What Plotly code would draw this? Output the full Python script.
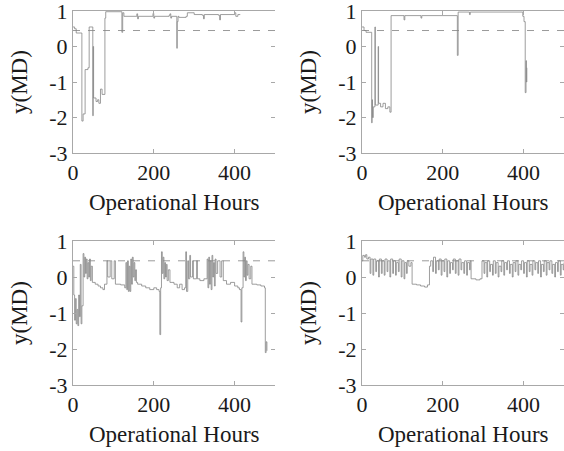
import plotly.graph_objects as go

# ---------------- DATA ----------------
x_range = [0, 500]
y_range = [-3, 1]
x_tickvals = [0, 200, 400]
x_ticktext = ["0", "200", "400"]
y_tickvals = [-3, -2, -1, 0, 1]
y_ticktext = ["-3", "-2", "-1", "0", "1"]
threshold = 0.45
x_title = "Operational Hours"
y_title = "y(MD)"

hours_a = [0, 4, 8, 22, 25, 30, 37, 40, 47, 49,
           50, 51, 57, 61, 64, 68, 72, 79, 81, 119,
           121, 123, 126, 156, 158, 160, 162, 196, 198, 200,
           202, 238, 240, 242, 244, 255, 257, 258, 260, 262,
           280, 283, 300, 320, 323, 325, 360, 363, 365, 400,
           403, 408, 414]
md_a = [0.55, 0.5, 0.38, -2.1, -1.9, -0.65, -0.6, 0.55, 0.55, -1.95,
        0.0, -1.45, -1.55, -1.5, -1.6, -1.2, -1.35, 0.8, 0.98, 0.98,
        0.4, 0.95, 0.85, 0.85, 0.92, 0.78, 0.85, 0.85, 0.93, 0.8,
        0.85, 0.88, 0.92, 0.8, 0.85, 0.85, -0.05, 0.7, 0.85, 0.82,
        0.85, 0.95, 0.9, 0.88, 0.78, 0.9, 0.88, 0.75, 0.9, 0.95,
        0.85, 0.9, 0.9]

hours_b = [0, 5, 10, 24, 25, 26, 28, 32, 33, 40,
           41, 46, 52, 58, 64, 69, 72, 104, 106, 146,
           148, 236, 238, 240, 266, 268, 398, 401, 404, 406,
           407, 408]
md_b = [0.55, 0.45, 0.4, -2.15, -1.5, -2.0, -1.7, 0.55, -1.65, 0.0,
        -1.6, -1.7, -1.6, -1.75, -1.7, -1.85, 0.87, 0.75, 0.87, 0.8,
        0.87, -0.25, 0.97, 0.97, 0.9, 0.97, 0.85, 0.7, -1.3, -0.4,
        -1.0, -0.6]

hours_c = [0, 2, 4, 6, 8, 10, 12, 14, 16, 18,
           20, 22, 25, 27, 29, 31, 33, 35, 37, 39,
           41, 43, 45, 48, 55, 62, 68, 74, 78, 84,
           86, 92, 96, 102, 105, 118, 128, 131, 133, 135,
           137, 139, 141, 143, 145, 147, 149, 151, 153, 155,
           157, 160, 170, 180, 190, 200, 207, 213, 215, 217,
           219, 221, 223, 225, 227, 229, 231, 233, 236, 240,
           250, 258, 264, 270, 276, 279, 281, 284, 286, 289,
           291, 296, 298, 306, 308, 314, 324, 332, 334, 336,
           338, 340, 342, 344, 346, 348, 350, 352, 354, 358,
           364, 368, 372, 380, 390, 400, 408, 412, 416, 418,
           421, 423, 425, 427, 429, 431, 433, 436, 440, 443,
           455, 465, 474, 476, 478, 480]
md_c = [0.3, -0.5, -1.2, -0.6, -1.3, -0.9, -1.35, -0.5, -1.1, 0.35,
        -1.3, -0.8, 0.65, 0.0, 0.55, 0.1, 0.5, -0.05, 0.4, 0.0,
        0.5, -0.1, 0.3, -0.15, -0.2, -0.25, -0.3, -0.35, -0.2, 0.45,
        0.0, 0.45, -0.05, 0.45, -0.2, -0.22, -0.3, 0.4, -0.35, 0.45,
        -0.4, 0.3, -0.4, 0.5, -0.2, 0.55, 0.0, 0.4, -0.1, 0.2,
        -0.15, -0.2, -0.25, -0.3, -0.35, -0.3, -0.35, -0.4, -1.6, -0.3,
        0.7, 0.1, 0.55, -0.05, 0.4, 0.0, 0.35, -0.1, 0.2, -0.15,
        -0.2, -0.3, -0.2, -0.35, -0.3, 0.7, -0.4, 0.45, -0.05, 0.6,
        0.0, 0.45, -0.05, 0.45, -0.05, -0.1, -0.05, 0.5, -0.3, 0.55,
        -0.2, 0.45, -0.35, 0.6, 0.0, 0.4, -0.25, 0.5, 0.1, 0.45,
        0.0, 0.45, -0.1, -0.2, -0.15, -0.25, -0.3, -0.35, -1.25, -0.3,
        0.7, 0.0, 0.55, -0.1, 0.45, 0.05, 0.35, -0.05, 0.3, -0.2,
        -0.22, -0.25, -0.3, -2.1, -1.8, -2.05]

hours_d = [0, 2, 6, 9, 12, 16, 20, 22, 27, 29,
           34, 36, 41, 43, 48, 50, 55, 57, 62, 64,
           69, 71, 76, 78, 83, 85, 90, 92, 97, 99,
           104, 106, 110, 112, 116, 121, 124, 135, 145, 155,
           162, 167, 170, 175, 177, 182, 184, 189, 191, 196,
           198, 203, 205, 210, 212, 217, 219, 224, 226, 231,
           233, 238, 240, 245, 247, 252, 254, 259, 261, 266,
           268, 270, 282, 292, 297, 302, 304, 309, 311, 316,
           318, 323, 325, 330, 332, 337, 339, 344, 346, 351,
           353, 358, 360, 365, 367, 372, 374, 379, 381, 386,
           388, 393, 395, 400, 402, 407, 409, 414, 416, 421,
           423, 428, 430, 435, 437, 442, 444, 449, 451, 456,
           458, 463, 465, 470, 472, 477, 479, 484, 486, 491,
           493, 498, 500]
md_d = [0.45, 0.6, 0.55, 0.62, 0.5, 0.55, 0.1, 0.5, 0.05, 0.5,
        0.15, 0.45, 0.0, 0.5, 0.1, 0.45, 0.05, 0.5, 0.15, 0.45,
        0.0, 0.5, 0.1, 0.45, 0.05, 0.4, 0.15, 0.5, 0.0, 0.45,
        -0.05, 0.4, 0.1, 0.45, 0.3, 0.4, -0.2, -0.22, -0.25, -0.28,
        -0.22, 0.3, 0.45, 0.15, 0.55, 0.1, 0.45, 0.2, 0.5, 0.05,
        0.45, 0.15, 0.5, 0.0, 0.45, 0.1, 0.4, 0.2, 0.5, 0.1,
        0.45, 0.05, 0.5, 0.2, 0.4, 0.1, 0.45, 0.05, 0.4, 0.2,
        0.45, -0.05, -0.08, -0.05, 0.45, 0.1, 0.4, 0.0, 0.45, 0.15,
        0.35, 0.05, 0.45, 0.1, 0.4, 0.0, 0.3, 0.15, 0.45, 0.05,
        0.4, 0.2, 0.45, 0.1, 0.35, 0.0, 0.4, 0.15, 0.45, 0.05,
        0.35, 0.2, 0.45, 0.1, 0.4, 0.0, 0.45, 0.15, 0.35, 0.05,
        0.45, 0.2, 0.4, 0.1, 0.45, 0.0, 0.35, 0.15, 0.45, 0.05,
        0.4, 0.2, 0.45, 0.1, 0.35, 0.0, 0.4, 0.15, 0.45, 0.05,
        0.35, 0.2, 0.4]

series = [(hours_a, md_a), (hours_b, md_b), (hours_c, md_c), (hours_d, md_d)]

# ---------------- LAYOUT ----------------
W, H = 564, 451
# plot areas in pixels (left, right, top, bottom)
boxes = [(73, 275, 11, 153), (362, 564, 11, 153),
         (73, 275, 241, 385), (362, 564, 241, 385)]

FONT = "Liberation Serif, Times New Roman, serif"
TXT = "#1a1a1a"
AX = "#a8a8a8"
LINE = "#858585"

fig = go.Figure()
layout = dict(width=W, height=H, margin=dict(l=0, r=0, t=0, b=0, pad=0),
              paper_bgcolor="white", plot_bgcolor="white", showlegend=False,
              font=dict(family=FONT, size=22, color=TXT))
annotations = []

for i, ((hx, hy), (l, r, t, b)) in enumerate(zip(series, boxes)):
    n = i + 1
    xa = "x" if n == 1 else f"x{n}"
    ya = "y" if n == 1 else f"y{n}"
    xd = [l / W, r / W]
    yd = [1 - b / H, 1 - t / H]
    fig.add_trace(go.Scatter(x=x_range, y=[threshold, threshold], mode="lines",
                             line=dict(color="#9a9a9a", width=1, dash="7px,8px"),
                             xaxis=xa, yaxis=ya, hoverinfo="skip"))
    fig.add_trace(go.Scatter(x=hx, y=hy, mode="lines",
                             line=dict(color=LINE, width=0.8, shape="hv"),
                             xaxis=xa, yaxis=ya))
    layout[f"xaxis{'' if n == 1 else n}"] = dict(
        domain=xd, range=x_range, anchor=ya, showgrid=False, zeroline=False,
        automargin=False, ticklabeloverflow="allow",
        showline=True, linecolor=AX, linewidth=1, mirror="ticks",
        ticks="inside", ticklen=4, tickcolor=AX,
        tickvals=x_tickvals, ticktext=x_ticktext,
        tickfont=dict(family=FONT, size=22, color=TXT))
    layout[f"yaxis{'' if n == 1 else n}"] = dict(
        domain=yd, range=y_range, anchor=xa, showgrid=False, zeroline=False,
        automargin=False, ticklabeloverflow="allow",
        showline=True, linecolor=AX, linewidth=1, mirror=False,
        ticks="inside", ticklen=4, tickcolor=AX,
        tickvals=y_tickvals, ticktext=y_ticktext,
        tickfont=dict(family=FONT, size=22, color=TXT))
    # right-side ticks (no line)
    m = n + 4
    layout[f"yaxis{m}"] = dict(
        overlaying=ya, side="right", anchor=xa, range=y_range,
        automargin=False,
        showgrid=False, zeroline=False, showline=False,
        ticks="inside", ticklen=4, tickcolor=AX, tickvals=y_tickvals,
        showticklabels=False)
    fig.add_trace(go.Scatter(x=[None], y=[None], xaxis=xa, yaxis=f"y{m}",
                             mode="lines", hoverinfo="skip"))
    annotations.append(dict(text=x_title, xref="paper", yref="paper",
                            x=(l + r) / 2 / W, y=1 - (b + 49) / H,
                            showarrow=False, xanchor="center", yanchor="middle",
                            font=dict(family=FONT, size=23, color=TXT)))
    annotations.append(dict(text=y_title, xref="paper", yref="paper",
                            x=(l - 54) / W, y=1 - (t + b) / 2 / H, textangle=-90,
                            showarrow=False, xanchor="center", yanchor="middle",
                            font=dict(family=FONT, size=23, color=TXT)))

layout["annotations"] = annotations
fig.update_layout(**layout)
fig.write_html("out.html", config={"displayModeBar": False},
               post_script="document.body.style.margin='0';"
                           "document.body.style.overflow='hidden';")
